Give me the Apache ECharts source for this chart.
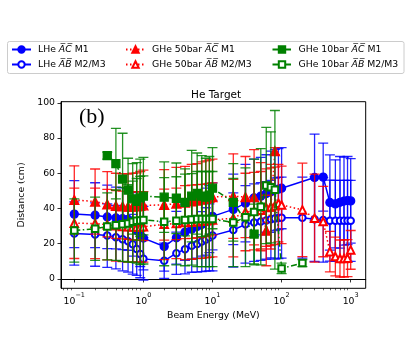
<!DOCTYPE html>
<html>
<head>
<meta charset="utf-8">
<script src="https://cdn.jsdelivr.net/npm/echarts@6/dist/echarts.min.js"></script>
<style>
html, body { margin: 0; padding: 0; background: #fff; }
#chart { width: 407px; height: 339px; }
</style>
</head>
<body>
<div id="chart"></div>
<script>
// each row: [beam energy (MeV), distance (cm), error (cm)]
var lheAC = [
  [0.1, 36.8, 19], [0.2, 36.2, 18.4], [0.3, 35.2, 18], [0.4, 34.6, 17.5], [0.5, 34.2, 17.5],
  [0.6, 33.8, 17.5], [0.7, 31, 18], [0.8, 27.5, 18], [0.9, 25, 18], [1, 23.2, 18],
  [2, 18.4, 14], [3, 23.4, 15], [4, 26.5, 16], [5, 28.3, 17], [6, 29.8, 18], [7, 31, 18],
  [8, 32.5, 19], [9, 34, 19], [10, 35.5, 19],
  [20, 39.5, 20], [30, 43, 22], [40, 46, 22], [50, 47, 22], [60, 48.5, 22], [70, 49.5, 23],
  [80, 50.5, 23], [90, 51, 23], [100, 51.5, 23],
  [300, 57.6, 24.6], [400, 57.8, 19.3], [500, 43.4, 27], [600, 42.6, 25], [700, 43.5, 26],
  [800, 44.2, 25], [900, 44.5, 25], [1000, 44.3, 24]
];
var lheAB = [
  [0.1, 25.8, 18], [0.2, 25.2, 18], [0.3, 24.6, 18], [0.4, 23.7, 18], [0.5, 22.6, 18],
  [0.6, 21.4, 17.5], [0.7, 19.7, 17], [0.8, 17, 15], [0.9, 14.2, 13.5], [1, 11.4, 12],
  [2, 10.3, 10], [3, 14.6, 12], [4, 16.9, 14], [5, 18.8, 15], [6, 19.9, 16], [7, 21.2, 17],
  [8, 22.4, 18], [9, 23.6, 19], [10, 24.6, 20],
  [20, 27.8, 21], [30, 31, 22], [40, 32, 22], [50, 32.6, 22], [60, 33.2, 22], [70, 33.9, 22],
  [80, 34.3, 23], [90, 34.6, 23], [100, 34.8, 23],
  [200, 34.8, 23], [300, 33.9, 24], [400, 33.5, 24], [500, 33.1, 23], [600, 33, 23],
  [700, 33, 23], [800, 33, 23], [900, 33, 23], [1000, 33, 23]
];
var ghe50AC = [
  [0.1, 44.9, 19.3], [0.2, 43.9, 18.5], [0.3, 42.4, 18.5], [0.4, 41.5, 18.5], [0.5, 41.2, 18.5],
  [0.6, 41, 18.5], [0.7, 41, 19], [0.8, 41.2, 19], [0.9, 41.5, 19.5], [1, 41.8, 20],
  [2, 42, 20], [3, 42.8, 20.5], [4, 43.4, 20.5], [5, 44, 21], [6, 44.5, 21], [7, 45, 21.5],
  [8, 45.5, 21.5], [9, 46, 21.5], [10, 46.5, 21.5],
  [20, 47, 24], [30, 46.5, 23], [40, 46.4, 27], [50, 41, 25], [60, 27.5, 20], [70, 41, 24],
  [80, 72.5, 2]
];
var ghe50AB = [
  [0.1, 31.6, 20], [0.2, 31.5, 20], [0.3, 30.8, 20], [0.4, 30.2, 20], [0.5, 29.8, 20],
  [0.6, 29.6, 20], [0.7, 29.5, 20], [0.8, 29.5, 20], [0.9, 29.5, 20], [1, 29.6, 20],
  [2, 31, 20], [3, 31.5, 20], [4, 32, 21], [5, 32.2, 21], [6, 32.5, 21], [7, 32.7, 21],
  [8, 33, 21], [9, 33.2, 21], [10, 33.5, 21],
  [20, 34.5, 22], [30, 38, 22], [40, 38.5, 22], [50, 39, 22], [60, 40.5, 22], [70, 41, 22],
  [80, 41.5, 22], [90, 43, 22], [100, 42, 22],
  [200, 39.2, 26.5], [300, 34.5, 25], [400, 32.6, 20], [500, 15.5, 11.5], [600, 12.7, 11],
  [700, 11.6, 10.5], [800, 11.6, 10.5], [900, 11.8, 10.5], [1000, 16.5, 11]
];
var ghe10AC = [
  [0.3, 70, 2], [0.4, 65.5, 20], [0.5, 56.7, 26], [0.6, 50.5, 18], [0.7, 45.5, 20],
  [0.8, 44, 22], [0.9, 46, 22], [1, 47, 22],
  [2, 46.4, 20], [3, 45.8, 20], [4, 43.5, 19], [5, 47, 26], [6, 48.5, 23], [7, 47, 23],
  [8, 46.5, 22], [9, 47.5, 22], [10, 51.5, 23],
  [20, 43.5, 22], [40, 25.5, 17]
];
var ghe10AB = [
  [0.1, 27.5, 18], [0.2, 28.5, 18], [0.3, 29.8, 19], [0.4, 30.5, 20], [0.5, 31, 21],
  [0.6, 31.5, 22], [0.7, 32.5, 23], [0.8, 33, 24], [0.9, 33.2, 25], [1, 33.5, 25],
  [2, 32.5, 25], [3, 33, 25], [4, 33.5, 26], [5, 33.8, 26], [6, 34, 27], [7, 34, 27],
  [8, 34, 27], [9, 34, 27], [10, 34, 27],
  [20, 32, 25], [30, 35, 28], [40, 38, 30], [50, 41, 33], [60, 53, 33], [70, 52, 31.5],
  [80, 50.6, 45], [100, 6, 3], [200, 9, 2]
];
var xMajorTicks = [0.1, 1, 10, 100, 1000];
var xMinorTicks = [0.07, 0.08, 0.09, 0.2, 0.3, 0.4, 0.5, 0.6, 0.7, 0.8, 0.9,
  2, 3, 4, 5, 6, 7, 8, 9, 20, 30, 40, 50, 60, 70, 80, 90,
  200, 300, 400, 500, 600, 700, 800, 900];
var yTicks = [0, 20, 40, 60, 80, 100];

var FONT = 'DejaVu Sans';
var BLUE = '#0000ff', RED = '#ff0000', GREEN = '#008000';
var DOT = [1.5, 2.5], DASHDOT = [6, 2.5, 1.5, 2.5];

// vertical error bars with caps
function errBars(rows, color, z) {
  return {
    type: 'custom',
    z: z,
    silent: true,
    clip: true,
    data: rows,
    encode: { x: 0, y: 1 },
    renderItem: function (params, api) {
      var x = api.value(0), y = api.value(1), e = api.value(2);
      var hi = api.coord([x, y + e]);
      var lo = api.coord([x, y - e]);
      var st = { stroke: color, lineWidth: 1.3, opacity: 0.85 };
      return {
        type: 'group',
        children: [
          { type: 'line', shape: { x1: hi[0], y1: hi[1], x2: lo[0], y2: lo[1] }, style: st },
          { type: 'line', shape: { x1: hi[0] - 5, y1: hi[1], x2: hi[0] + 5, y2: hi[1] }, style: st },
          { type: 'line', shape: { x1: lo[0] - 5, y1: lo[1], x2: lo[0] + 5, y2: lo[1] }, style: st }
        ]
      };
    }
  };
}

function dataLine(name, rows, color, symbol, size, dash, z) {
  return {
    name: name,
    type: 'line',
    z: z,
    data: rows.map(function (r) { return [r[0], r[1]]; }),
    symbol: symbol,
    symbolSize: size,
    showAllSymbol: true,
    clip: true,
    lineStyle: { color: color, width: 1.5, type: dash },
    itemStyle: { color: color, borderColor: color, borderWidth: 1.3 },
    emphasis: { disabled: true }
  };
}

var names = {
  'LHe AC M1': 'LHe {it|A\u0305C\u0305} M1',
  'LHe AB M2/M3': 'LHe {it|A\u0305B\u0305} M2/M3',
  'GHe 50bar AC M1': 'GHe 50bar {it|A\u0305C\u0305} M1',
  'GHe 50bar AB M2/M3': 'GHe 50bar {it|A\u0305B\u0305} M2/M3',
  'GHe 10bar AC M1': 'GHe 10bar {it|A\u0305C\u0305} M1',
  'GHe 10bar AB M2/M3': 'GHe 10bar {it|A\u0305B\u0305} M2/M3'
};

function legendCol(left, items) {
  return {
    data: items,
    left: left,
    top: 45,
    orient: 'vertical',
    itemWidth: 19,
    itemHeight: 8,
    itemGap: 6,
    padding: 0,
    selectedMode: false,
    formatter: function (n) { return names[n]; },
    textStyle: {
      fontFamily: FONT, fontSize: 9.3, color: '#000', padding: [0, 0, 0, 2],
      rich: { it: { fontFamily: FONT, fontSize: 9.3, fontStyle: 'italic', color: '#000' } }
    }
  };
}

var chart = echarts.init(document.getElementById('chart'), null, { renderer: 'canvas' });

chart.setOption({
  animation: false,
  backgroundColor: '#fff',
  title: [
    { text: 'He Target', left: 186, top: 85, textStyle: { fontFamily: FONT, fontSize: 10.5, fontWeight: 'normal', color: '#000' } },
    { text: '(b)', left: 74, top: 101, textStyle: { fontFamily: 'Liberation Serif', fontSize: 22, fontWeight: 'normal', color: '#000' } }
  ],
  graphic: [{
    type: 'rect',
    shape: { x: 7.5, y: 41.5, width: 396.5, height: 32, r: 2 },
    style: { fill: 'rgba(255,255,255,0.8)', stroke: '#cccccc', lineWidth: 1 },
    z: -1
  }],
  legend: [
    legendCol(11, ['LHe AC M1', 'LHe AB M2/M3']),
    legendCol(125, ['GHe 50bar AC M1', 'GHe 50bar AB M2/M3']),
    legendCol(271.5, ['GHe 10bar AC M1', 'GHe 10bar AB M2/M3'])
  ],
  grid: { left: 61, right: 41.3, top: 101.7, bottom: 50.7, show: true, borderColor: '#000', borderWidth: 1, backgroundColor: 'transparent' },
  xAxis: [{
    type: 'log',
    logBase: 10,
    min: 0.0642,
    max: 1649,
    name: 'Beam Energy (MeV)',
    nameLocation: 'middle',
    nameGap: 18,
    nameTextStyle: { fontFamily: FONT, fontSize: 9.3, color: '#000' },
    axisLine: { show: true, lineStyle: { color: '#000', width: 1 } },
    axisTick: { show: true, length: 3.5, customValues: xMajorTicks, lineStyle: { color: '#000', width: 0.8 } },
    splitLine: { show: false },
    axisLabel: {
      customValues: xMajorTicks,
      margin: 4,
      formatter: function (v) {
        var e = Math.round(Math.log10(v));
        return '{b|10}{s|' + (e < 0 ? '\u2212' + (-e) : e) + '}';
      },
      rich: {
        b: { fontFamily: FONT, fontSize: 9.3, color: '#000', lineHeight: 14, verticalAlign: 'bottom' },
        s: { fontFamily: FONT, fontSize: 6.5, color: '#000', lineHeight: 8, verticalAlign: 'top' }
      }
    }
  }, {
    type: 'log',
    logBase: 10,
    min: 0.0642,
    max: 1649,
    position: 'bottom',
    axisLine: { show: false },
    axisTick: { show: true, length: 2, customValues: xMinorTicks, lineStyle: { color: '#000', width: 0.6 } },
    axisLabel: { show: false },
    splitLine: { show: false }
  }],
  yAxis: {
    type: 'value',
    min: -5.3,
    max: 100.6,
    name: 'Distance (cm)',
    nameLocation: 'middle',
    nameGap: 23,
    nameTextStyle: { fontFamily: FONT, fontSize: 9.3, color: '#000' },
    axisLine: { show: true, lineStyle: { color: '#000', width: 1 } },
    axisTick: { show: true, length: 3.5, customValues: yTicks, lineStyle: { color: '#000', width: 0.8 } },
    splitLine: { show: false },
    axisLabel: { customValues: yTicks, margin: 6, fontFamily: FONT, fontSize: 9.3, color: '#000' }
  },
  series: [
    errBars(lheAC, BLUE, 2),
    dataLine('LHe AC M1', lheAC, BLUE, 'circle', 8, 'solid', 3),
    errBars(lheAB, BLUE, 4),
    dataLine('LHe AB M2/M3', lheAB, BLUE, 'emptyCircle', 6.5, 'solid', 5),
    errBars(ghe50AC, RED, 6),
    dataLine('GHe 50bar AC M1', ghe50AC, RED, 'triangle', 9, DOT, 7),
    errBars(ghe50AB, RED, 8),
    dataLine('GHe 50bar AB M2/M3', ghe50AB, RED, 'emptyTriangle', 7.5, DOT, 9),
    errBars(ghe10AC, GREEN, 10),
    dataLine('GHe 10bar AC M1', ghe10AC, GREEN, 'rect', 8, DASHDOT, 11),
    errBars(ghe10AB, GREEN, 12),
    dataLine('GHe 10bar AB M2/M3', ghe10AB, GREEN, 'emptyRect', 6.5, DASHDOT, 13)
  ]
});
</script>
</body>
</html>
